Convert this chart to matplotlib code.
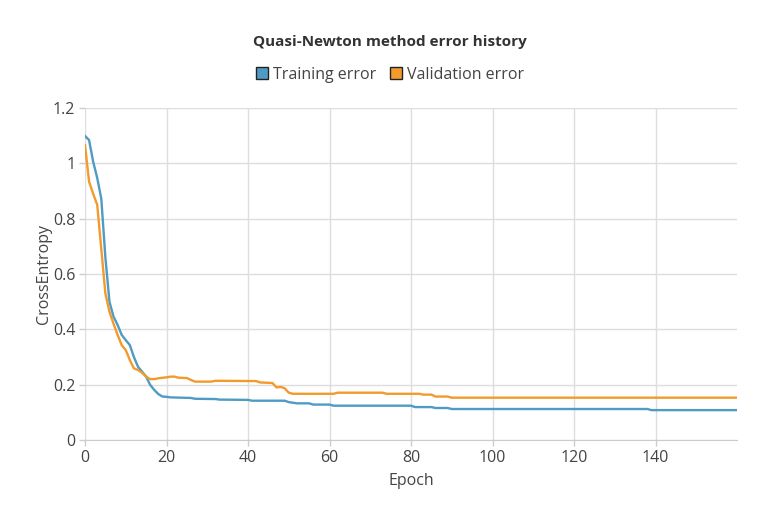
import matplotlib.pyplot as plt
from matplotlib.lines import Line2D

# values (epoch, cross entropy)
train_epoch = [0, 1, 2, 3, 4, 5, 6, 7, 8, 9, 10, 11, 12, 13, 14, 15, 16, 17, 18, 19,
               20, 21, 26, 27, 32, 33, 40, 41, 49, 50, 52, 55, 56, 60, 61, 80, 81,
               85, 86, 89, 90, 138, 139, 160]
train_error = [1.099, 1.084, 1.006, 0.947, 0.872, 0.66, 0.50, 0.446, 0.416, 0.38,
               0.361, 0.343, 0.30, 0.265, 0.247, 0.229, 0.199, 0.181, 0.166, 0.157,
               0.156, 0.154, 0.152, 0.149, 0.148, 0.146, 0.145, 0.142, 0.142, 0.137,
               0.1325, 0.1325, 0.128, 0.128, 0.124, 0.124, 0.119, 0.119, 0.1157,
               0.1157, 0.112, 0.112, 0.108, 0.108]

val_epoch = [0, 1, 2, 3, 4, 5, 6, 7, 8, 9, 10, 11, 12, 13, 14, 15, 16, 17, 18, 19,
             20, 21, 22, 23, 25, 26, 27, 31, 32, 42, 43, 46, 47, 48, 49, 50, 51, 61,
             62, 73, 74, 82, 83, 85, 86, 89, 90, 160]
val_error = [1.066, 0.934, 0.89, 0.85, 0.69, 0.53, 0.464, 0.42, 0.38, 0.343, 0.325,
             0.289, 0.259, 0.253, 0.243, 0.229, 0.22, 0.22, 0.223, 0.225, 0.2265,
             0.229, 0.229, 0.225, 0.224, 0.217, 0.211, 0.211, 0.214, 0.213, 0.208,
             0.206, 0.19, 0.192, 0.187, 0.171, 0.167, 0.167, 0.171, 0.171, 0.167,
             0.167, 0.164, 0.164, 0.157, 0.157, 0.153, 0.153]

blue = "#4f9bc4"
orange = "#f39a2c"
txt = "#444444"

plt.rcParams['font.family'] = ['Open Sans', 'DejaVu Sans']

fig = plt.figure(figsize=(7.8, 5.2), dpi=100)
ax = fig.add_axes([85/780, 1 - 440/520, (737 - 85)/780, (440 - 108)/520])

ax.plot(train_epoch, train_error, color=blue, lw=1.7)
ax.plot(val_epoch, val_error, color=orange, lw=1.7)

ax.set_xlim(0, 160)
ax.set_ylim(0, 1.2)
ax.set_xticks(range(0, 141, 20))
ax.set_yticks([0, 0.2, 0.4, 0.6, 0.8, 1.0, 1.2])
ax.set_yticklabels(["0", "0.2", "0.4", "0.6", "0.8", "1", "1.2"])
ax.grid(True, color="#dddddd", lw=1)
ax.set_axisbelow(True)
for s in ["top", "right", "left"]:
    ax.spines[s].set_visible(False)
ax.spines["bottom"].set_color("#cccccc")
ax.tick_params(length=4, width=1, color="#cccccc", labelsize=11.5, labelcolor=txt, pad=3)

ax.set_xlabel("Epoch", fontsize=11.5, color=txt, labelpad=5)
ax.set_ylabel("CrossEntropy", fontsize=11.5, color=txt, labelpad=1)

fig.text(0.5, 1 - 42/520, "Quasi-Newton method error history", ha="center",
         va="center", fontsize=11, fontweight="bold", color="#333333")

handles = [Line2D([], [], ls="none", marker="s", markersize=8, markerfacecolor=blue,
                  markeredgecolor="#222222", markeredgewidth=1),
           Line2D([], [], ls="none", marker="s", markersize=8, markerfacecolor=orange,
                  markeredgecolor="#222222", markeredgewidth=1)]
leg = fig.legend(handles, ["Training error", "Validation error"], loc="center",
                 bbox_to_anchor=(0.5, 1 - 75/520), ncol=2, frameon=False,
                 fontsize=11.5, handlelength=0.8, handletextpad=0.3, columnspacing=0.8)
for t in leg.get_texts():
    t.set_color(txt)

fig.savefig("out.png", dpi=100)
